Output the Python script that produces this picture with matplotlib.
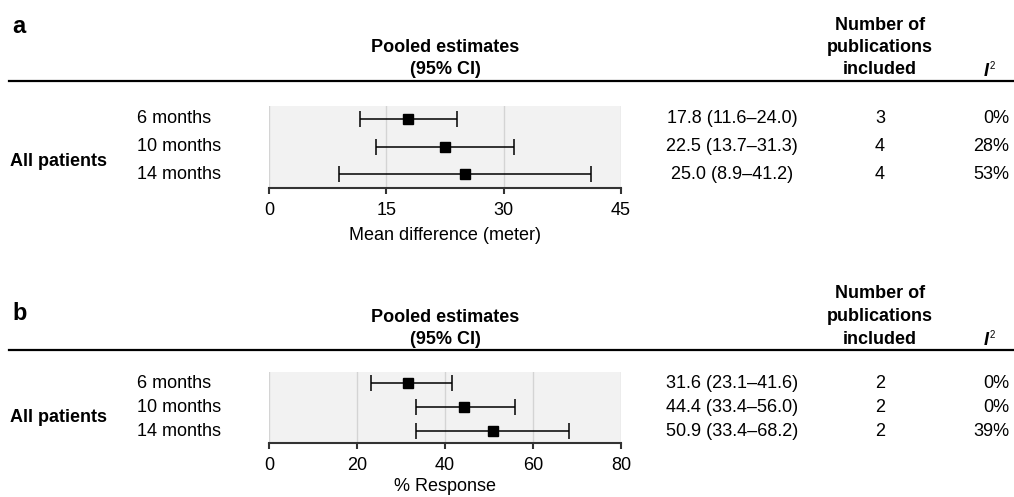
import matplotlib
matplotlib.use("Agg")
import matplotlib.pyplot as plt
import matplotlib.transforms as mtransforms

# data
row_labels = ["6 months", "10 months", "14 months"]
group_label = "All patients"

# panel a: mean difference (meter)
a_est = [17.8, 22.5, 25.0]
a_lo = [11.6, 13.7, 8.9]
a_hi = [24.0, 31.3, 41.2]
a_n = [3, 4, 4]
a_i2 = [0, 28, 53]
a_ticks = [0, 15, 30, 45]
a_xlabel = "Mean difference (meter)"

# panel b: % response
b_est = [31.6, 44.4, 50.9]
b_lo = [23.1, 33.4, 33.4]
b_hi = [41.6, 56.0, 68.2]
b_n = [2, 2, 2]
b_i2 = [0, 0, 39]
b_ticks = [0, 20, 40, 60, 80]
b_xlabel = "% Response"

W, H = 1014, 497
FS = 13


def fx(x): return x / W
def fy(y): return 1 - y / H


def panel(fig, letter, letter_y, rule_y, ax_top, ax_bot, est, lo, hi, n, i2, ticks, xlabel, group_y, lpad):
    # panel letter and header
    fig.text(fx(12), fy(letter_y), letter, fontsize=17, fontweight="bold", va="baseline")
    fig.text(fx(445), fy(rule_y - 33), "Pooled estimates", fontsize=FS, fontweight="bold", ha="center", va="center")
    fig.text(fx(445), fy(rule_y - 11), "(95% CI)", fontsize=FS, fontweight="bold", ha="center", va="center")
    for k, line in enumerate(["Number of", "publications", "included"]):
        fig.text(fx(880), fy(rule_y - 56 + 22.5 * k), line, fontsize=FS, fontweight="bold", ha="center", va="center")
    fig.text(fx(984), fy(rule_y - 5), "I", fontsize=FS, fontweight="bold", style="italic", va="baseline")
    fig.text(fx(989.5), fy(rule_y - 12), "2", fontsize=7, va="baseline")
    fig.add_artist(plt.Line2D([fx(9), fx(1014)], [fy(rule_y), fy(rule_y)], color="black", lw=1.6))

    # forest plot axes
    ax = fig.add_axes([fx(269), fy(ax_bot), (621 - 269) / W, (ax_bot - ax_top) / H])
    ax.set_facecolor("#f2f2f2")
    rows = list(range(len(est)))
    xerr = [[e - l for e, l in zip(est, lo)], [h - e for e, h in zip(est, hi)]]
    ax.errorbar(est, rows, xerr=xerr, fmt="s", color="black", ms=7.5,
                elinewidth=1.1, capsize=6, capthick=1.1, zorder=3)
    ax.set_xlim(ticks[0], ticks[-1])
    ax.set_ylim(2.5, -0.47)
    ax.set_xticks(ticks)
    ax.set_yticks([])
    ax.grid(axis="x", color="#d4d4d4", lw=1.0)
    ax.set_axisbelow(True)
    for s in ["top", "left", "right"]:
        ax.spines[s].set_visible(False)
    ax.spines["bottom"].set_color("#333333")
    ax.spines["bottom"].set_linewidth(1.5)
    ax.tick_params(axis="x", length=4, width=1.5, color="#333333", labelsize=FS, pad=6)
    ax.set_xlabel(xlabel, fontsize=FS, labelpad=lpad)

    # row texts
    tr = mtransforms.blended_transform_factory(fig.transFigure, ax.transData)
    for r in rows:
        ax.text(fx(137), r, row_labels[r], fontsize=FS, va="center", transform=tr)
        ax.text(fx(732), r, f"{est[r]:.1f} ({lo[r]:.1f}\u2013{hi[r]:.1f})", fontsize=FS,
                ha="center", va="center", transform=tr)
        ax.text(fx(880), r, str(n[r]), fontsize=FS, ha="center", va="center", transform=tr)
        ax.text(fx(1009), r, f"{i2[r]}%", fontsize=FS, ha="right", va="center", transform=tr)
    ax.text(fx(10), group_y, group_label, fontsize=FS, fontweight="bold", va="center", transform=tr)
    return ax


def main():
    plt.rcParams["font.family"] = ["Liberation Sans", "DejaVu Sans"]
    fig = plt.figure(figsize=(W / 100, H / 100), dpi=100)

    panel(fig, "a", 33, 81, 106, 188, a_est, a_lo, a_hi, a_n, a_i2, a_ticks, a_xlabel, 1.55, 6)
    panel(fig, "b", 320, 350, 372, 443, b_est, b_lo, b_hi, b_n, b_i2, b_ticks, b_xlabel, 1.45, 3)

    fig.savefig("out.png", dpi=100)


if __name__ == "__main__":
    main()
